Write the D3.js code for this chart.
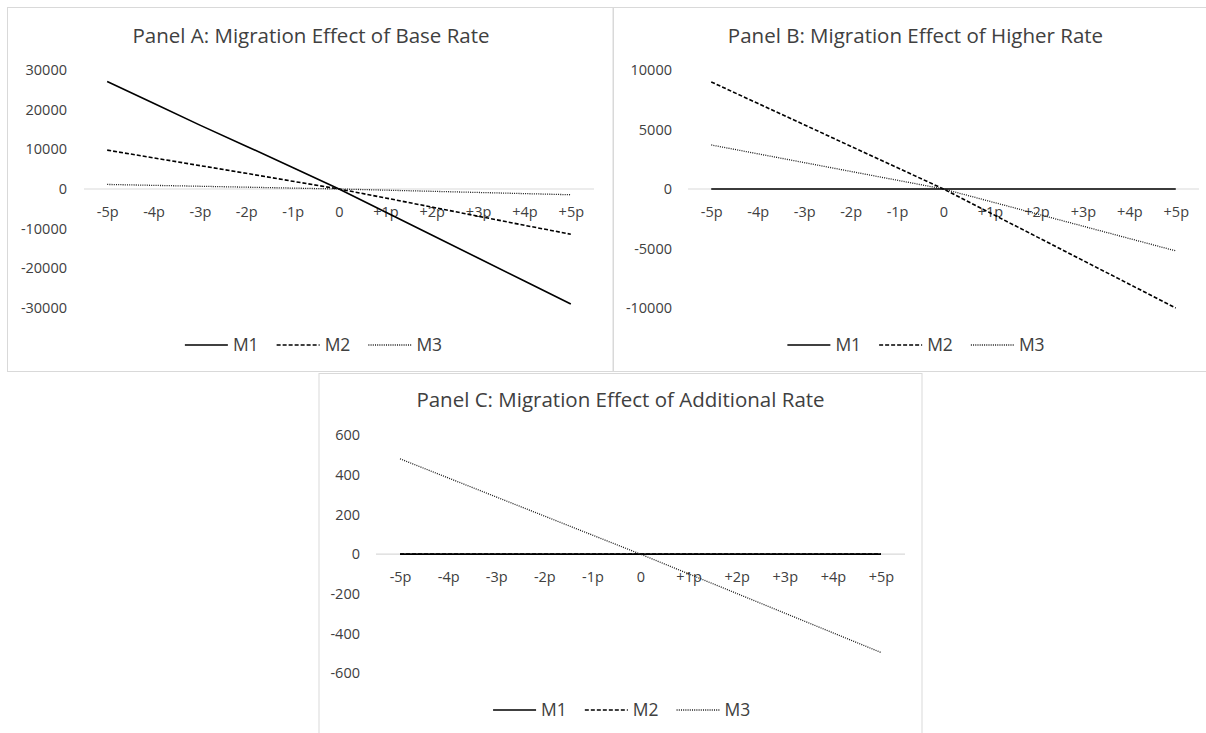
<!DOCTYPE html>
<html><head><meta charset="utf-8">
<script src="https://cdn.jsdelivr.net/npm/d3@7"></script>
<style>
body{margin:0;background:#fff;}
svg{display:block;font-family:"Open Sans",sans-serif;}
</style>
</head><body>
<svg id="chart" width="1206" height="733"></svg>
<script>
// ---------- data ----------
const categories = ["-5p","-4p","-3p","-2p","-1p","0","+1p","+2p","+3p","+4p","+5p"];
const seriesNames = ["M1","M2","M3"];
const titles = [
  "Panel A: Migration Effect of Base Rate",
  "Panel B: Migration Effect of Higher Rate",
  "Panel C: Migration Effect of Additional Rate"
];
const panelA_M1 = [27100, 21600, 16100, 10800, 5400, 0, -5800, -11600, -17400, -23200, -29000];
const panelA_M2 = [9800, 7850, 5900, 3950, 1950, 0, -2250, -4550, -6850, -9150, -11400];
const panelA_M3 = [1150, 920, 690, 460, 230, 0, -290, -580, -870, -1160, -1450];
const panelB_M1 = [0, 0, 0, 0, 0, 0, 0, 0, 0, 0, 0];
const panelB_M2 = [9000, 7200, 5400, 3600, 1800, 0, -2000, -4000, -6000, -8000, -10000];
const panelB_M3 = [3700, 2960, 2220, 1480, 740, 0, -1040, -2080, -3120, -4160, -5200];
const panelC_M1 = [0, 0, 0, 0, 0, 0, 0, 0, 0, 0, 0];
const panelC_M2 = [0, 0, 0, 0, 0, 0, 0, 0, 0, 0, 0];
const panelC_M3 = [480, 384, 288, 192, 96, 0, -99, -198, -297, -396, -495];
const yTicksA = [30000, 20000, 10000, 0, -10000, -20000, -30000];
const yTicksB = [10000, 5000, 0, -5000, -10000];
const yTicksC = [600, 400, 200, 0, -200, -400, -600];

// ---------- styles / layout ----------
const lineStyle = {
  M1: {color: "#000", width: 1.6, dash: null},
  M2: {color: "#000", width: 1.6, dash: "4,2"},
  M3: {color: "#1a1a1a", width: 1.3, dash: "1,1.2"}
};
const textColor = "#404040";
const panels = [
  {title: titles[0], box: [7.5, 7.5, 613, 371.5], xr: [84, 594], yd: [-30000, 30000], yr: [308, 70],
   ticks: yTicksA, labelX: 67, titleY: 43, legendY: 345, legendCx: 313.5, cx: 311,
   series: [panelA_M1, panelA_M2, panelA_M3]},
  {title: titles[1], box: [613.5, 7.5, 1217, 371.5], xr: [688, 1199], yd: [-10000, 10000], yr: [308, 70],
   ticks: yTicksB, labelX: 672, titleY: 43, legendY: 345, legendCx: 916, cx: 915.5,
   series: [panelB_M1, panelB_M2, panelB_M3]},
  {title: titles[2], box: [319, 373.5, 922, 745], xr: [376, 905], yd: [-600, 600], yr: [673.3, 435],
   ticks: yTicksC, labelX: 360, titleY: 407, legendY: 710, legendCx: 621.7, cx: 620.5,
   series: [panelC_M1, panelC_M2, panelC_M3]}
];

const svg = d3.select("#chart");
svg.append("rect").attr("width", 1206).attr("height", 733).attr("fill", "#fff");

panels.forEach(p => {
  const g = svg.append("g");
  const [x0, y0, x1, y1] = p.box;
  g.append("rect").attr("x", x0).attr("y", y0).attr("width", x1 - x0).attr("height", y1 - y0)
    .attr("fill", "#fff").attr("stroke", "#d9d9d9").attr("stroke-width", 1);

  const x = d3.scalePoint().domain(categories).range(p.xr).padding(0.5);
  const y = d3.scaleLinear().domain(p.yd).range(p.yr);

  // title
  g.append("text").attr("x", p.cx).attr("y", p.titleY).attr("text-anchor", "middle")
    .attr("font-size", 20.5).attr("fill", textColor).text(p.title);

  // y axis labels
  const ya = g.append("g").attr("transform", `translate(${p.labelX},0)`)
    .call(d3.axisLeft(y).tickValues(p.ticks).tickSize(0).tickPadding(0).tickFormat(d => String(d)));
  ya.select(".domain").remove();
  ya.selectAll("text").attr("font-size", 14.5).attr("fill", textColor).attr("font-family", "Open Sans");

  // zero axis line
  g.append("line").attr("x1", p.xr[0]).attr("x2", p.xr[1]).attr("y1", y(0)).attr("y2", y(0))
    .attr("stroke", "#d9d9d9").attr("stroke-width", 1.2);

  // x axis labels
  const xa = g.append("g").attr("transform", `translate(0,${y(0)})`)
    .call(d3.axisBottom(x).tickSize(0).tickPadding(18));
  xa.select(".domain").remove();
  xa.selectAll("text").attr("font-size", 14.5).attr("fill", textColor).attr("font-family", "Open Sans");

  // series
  const line = d3.line().x((d, i) => x(categories[i])).y(d => y(d));
  p.series.forEach((vals, si) => {
    const st = lineStyle[seriesNames[si]];
    g.append("path").datum(vals).attr("d", line).attr("fill", "none")
      .attr("stroke", st.color).attr("stroke-width", st.width)
      .attr("stroke-dasharray", st.dash).attr("stroke-linecap", "butt");
  });

  // legend
  const lg = g.append("g");
  let cursor = 0;
  seriesNames.forEach((name) => {
    const it = lg.append("g");
    const st = lineStyle[name];
    it.append("line").attr("x1", 0).attr("x2", 43).attr("y1", 0).attr("y2", 0)
      .attr("stroke", st.color).attr("stroke-width", st.width).attr("stroke-dasharray", st.dash);
    const t = it.append("text").attr("x", 48).attr("y", 6.3).attr("font-size", 17.5)
      .attr("fill", textColor).text(name);
    const w = 48 + t.node().getComputedTextLength();
    it.attr("transform", `translate(${cursor},0)`);
    cursor += w + 18;
  });
  const total = cursor - 18;
  lg.attr("transform", `translate(${p.legendCx - total / 2},${p.legendY})`);
});
</script>
</body></html>
